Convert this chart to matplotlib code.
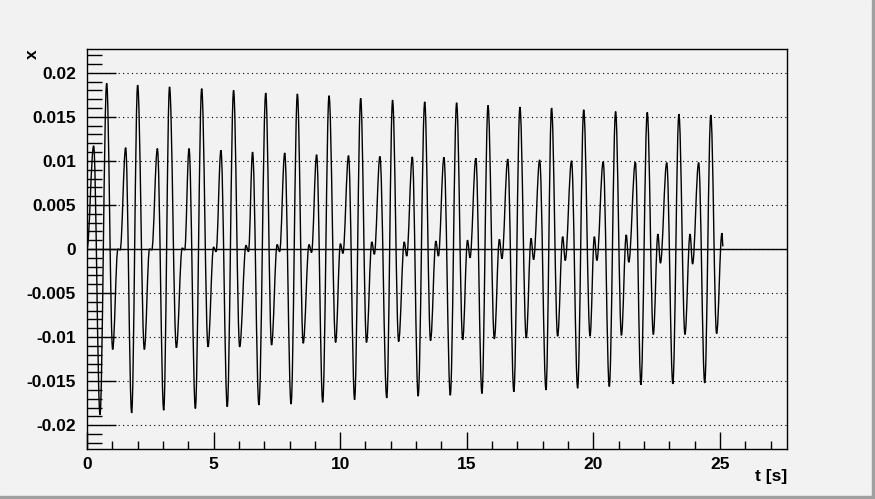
import numpy as np
import matplotlib
matplotlib.use("Agg")
import matplotlib.pyplot as plt
from matplotlib.ticker import MultipleLocator, FuncFormatter
from matplotlib.patches import Rectangle, PathPatch
from matplotlib.path import Path

# extrema, one entry per oscillation cycle
small_peak_t = [0.263, 1.527, 2.78, 4.03, 5.29, 6.54, 7.81, 9.07, 10.33, 11.57,
                12.85, 14.10, 15.36, 16.62, 17.88, 19.14, 20.39, 21.66, 22.90, 24.16]
small_peak_x = [0.0117, 0.0115, 0.0114, 0.0114, 0.0112, 0.0110, 0.0109, 0.0107, 0.0106, 0.0105,
                0.01045, 0.0104, 0.0103, 0.0102, 0.0101, 0.0100, 0.0099, 0.00985, 0.0098, 0.0098]

big_trough_t = [0.513, 1.764, 3.03, 4.28, 5.54, 6.79, 8.06, 9.31, 10.57, 11.84,
                13.08, 14.35, 15.60, 16.86, 18.13, 19.38, 20.63, 21.88, 23.14, 24.40]
big_trough_x = [-0.0188, -0.0186, -0.0183, -0.0181, -0.0179, -0.0177, -0.0176, -0.0174, -0.0171, -0.0169,
                -0.0167, -0.0166, -0.0164, -0.0162, -0.0160, -0.0158, -0.0156, -0.0154, -0.0153, -0.0152]

big_peak_t = [0.777, 2.00, 3.26, 4.53, 5.79, 7.06, 8.31, 9.56, 10.81, 12.07,
              13.34, 14.60, 15.84, 17.10, 18.35, 19.62, 20.88, 22.13, 23.38, 24.64]
big_peak_x = [0.0188, 0.0186, 0.0184, 0.0182, 0.0180, 0.0177, 0.0176, 0.0174, 0.0171, 0.0169,
              0.0167, 0.0166, 0.0163, 0.0161, 0.0160, 0.0158, 0.0156, 0.0155, 0.0153, 0.0152]

small_trough_t = [1.014, 2.265, 3.53, 4.78, 6.03, 7.29, 8.54, 9.82, 11.04, 12.31,
                  13.57, 14.84, 16.09, 17.35, 18.59, 19.87, 21.11, 22.37, 23.62, 24.87]
small_trough_x = [-0.0114, -0.0114, -0.0112, -0.0111, -0.0111, -0.0109, -0.0107, -0.0106, -0.0106, -0.0105,
                  -0.0104, -0.0103, -0.0102, -0.0101, -0.0099, -0.0099, -0.0098, -0.0097, -0.0097, -0.0096]

bump_t = [1.22, 2.47, 3.76, 5.00, 6.28, 7.51, 8.77, 10.01, 11.25, 12.53,
          13.78, 15.03, 16.29, 17.54, 18.79, 20.04, 21.30, 22.55, 23.82, 25.08]
bump_x = [0.0, 0.0, 0.0001, 0.0002, 0.0004, 0.0005, 0.0005, 0.0006, 0.0008, 0.0008,
          0.0009, 0.0010, 0.0011, 0.0012, 0.0014, 0.0014, 0.0016, 0.0017, 0.0017, 0.0018]

dip_t = [1.31, 2.56, 3.86, 5.10, 6.38, 7.61, 8.87, 10.11, 11.35, 12.63,
         13.88, 15.13, 16.39, 17.64, 18.89, 20.14, 21.40, 22.65, 23.92, 25.12]
dip_x = [-0.0001, -0.0001, -0.0001, -0.0003, -0.0003, -0.0003, -0.0004, -0.0005, -0.0006, -0.0008,
         -0.0008, -0.0010, -0.0011, -0.0012, -0.0013, -0.0013, -0.0015, -0.0016, -0.0017, 0.0003]

start_t, start_x = [0.0], [0.0]

t = np.concatenate([start_t, small_peak_t, big_trough_t, big_peak_t, small_trough_t, bump_t, dip_t])
x = np.concatenate([start_x, small_peak_x, big_trough_x, big_peak_x, small_trough_x, bump_x, dip_x])
order = np.argsort(t)
t, x = t[order], x[order]

# smooth curve between consecutive extrema: cubic bezier with flat tangents at the turning points
K = 0.3642
verts = [(t[0], x[0])]
codes = [Path.MOVETO]
for i in range(len(t) - 1):
    dt = t[i + 1] - t[i]
    verts += [(t[i] + K * dt, x[i]), (t[i + 1] - K * dt, x[i + 1]), (t[i + 1], x[i + 1])]
    codes += [Path.CURVE4] * 3
curve = Path(verts, codes)

plt.rcParams["font.family"] = ["Liberation Sans", "DejaVu Sans"]
plt.rcParams["axes.unicode_minus"] = False
bg = "#f2f2f2"

fig = plt.figure(figsize=(8.75, 4.99), dpi=100, facecolor=bg)
ax = fig.add_axes([87 / 875, 1 - 449 / 499, 700 / 875, 400 / 499], facecolor=bg)

# canvas bevel
fig.patches.append(Rectangle((0, 0), 1, 3 / 499, transform=fig.transFigure, color="#a0a0a0", zorder=0))
fig.patches.append(Rectangle((1 - 3 / 875, 0), 3 / 875, 1, transform=fig.transFigure, color="#a0a0a0", zorder=0))

ax.add_patch(PathPatch(curve, fill=False, edgecolor="black", lw=1.0, zorder=3))
ax.axhline(0, color="black", lw=1.0, zorder=2)

ax.set_xlim(0, 27.65)
ax.set_ylim(-0.0227, 0.0227)

ax.xaxis.set_major_locator(MultipleLocator(5))
ax.xaxis.set_minor_locator(MultipleLocator(1))
ax.yaxis.set_major_locator(MultipleLocator(0.005))
ax.yaxis.set_minor_locator(MultipleLocator(0.001))


def fmt_y(v, pos):
    if abs(v) < 1e-9:
        return "0"
    return ("%.3f" % v).rstrip("0")


ax.yaxis.set_major_formatter(FuncFormatter(fmt_y))
ax.xaxis.set_major_formatter(FuncFormatter(lambda v, pos: "%d" % round(v)))

ax.tick_params(axis="y", which="major", direction="in", length=21, width=1, pad=8,
               labelsize=12.5, labelcolor="black")
ax.tick_params(axis="y", which="minor", direction="in", length=11, width=1)
ax.tick_params(axis="x", which="major", direction="in", length=12, width=1, pad=6,
               labelsize=12.5)
ax.tick_params(axis="x", which="minor", direction="in", length=6, width=1)
for lab in ax.get_xticklabels() + ax.get_yticklabels():
    lab.set_fontweight("bold")

ax.yaxis.grid(True, which="major", color="black", lw=0.8, linestyle=(0, (1, 3)))
ax.set_axisbelow(True)
for s in ax.spines.values():
    s.set_linewidth(1.0)

fig.text(32 / 875, 1 - 54 / 499, "x", rotation=90, ha="center", va="center",
         fontsize=12.5, fontweight="bold")
fig.text(787 / 875, 1 - 476 / 499, "t [s]", ha="right", va="center",
         fontsize=12.5, fontweight="bold")

fig.savefig("out.png", dpi=100, facecolor=bg)
